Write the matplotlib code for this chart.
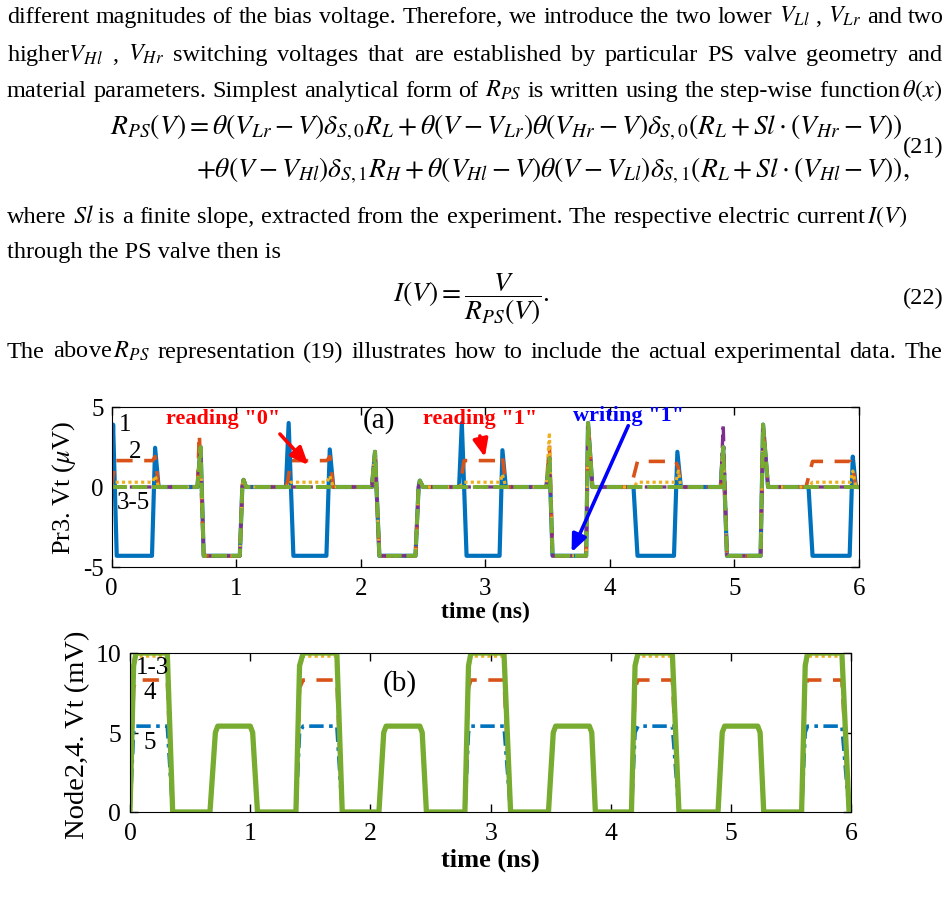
import matplotlib
matplotlib.use('Agg')
import matplotlib.pyplot as plt

plt.rcParams['font.family'] = ['Liberation Serif', 'DejaVu Serif']
plt.rcParams['mathtext.fontset'] = 'stix'
plt.rcParams['axes.unicode_minus'] = False

W, H = 948, 903
SERIF = ['Liberation Serif', 'DejaVu Serif']

C_BLUE = '#0072BD'
C_ORANGE = '#D95319'
C_YELLOW = '#EDB120'
C_PURPLE = '#7E2F8E'
C_GREEN = '#77AC30'

# ---- panel (a): Pr3. Vt (uV) vs time (ns) ----
t_pr3_1 = [0.000, 0.013, 0.042, 0.325, 0.350, 0.378,
           0.690, 0.715, 0.740, 1.030, 1.050, 1.060, 1.080,
           1.400, 1.422, 1.460, 1.725, 1.752, 1.780,
           2.090, 2.115, 2.150, 2.440, 2.465, 2.475, 2.500,
           2.790, 2.812, 2.850, 3.115, 3.138, 3.165,
           3.490, 3.515, 3.540, 3.810, 3.825, 3.860,
           4.190, 4.222, 4.515, 4.542, 4.570,
           4.890, 4.910, 4.940, 5.210, 5.230, 5.270,
           5.595, 5.627, 5.925, 5.950, 5.975, 6.000]
v_pr3_1 = [0, 3.9, -4.3, -4.3, 2.45, 0,
           0, 2.5, -4.3, -4.3, 0, 0.45, 0,
           0, 4.0, -4.3, -4.3, 2.35, 0,
           0, 2.2, -4.3, -4.3, 0, 0.4, 0,
           0, 4.0, -4.3, -4.3, 2.3, 0,
           0, 1.8, -4.3, -4.3, 4.0, 0,
           0, -4.3, -4.3, 2.2, 0,
           0, 2.5, -4.3, -4.3, 3.9, 0,
           0, -4.3, -4.3, 1.9, 0, 0]

t_pr3_2 = [0.000, 0.030, 0.330, 0.350, 0.378,
           0.690, 0.705, 0.740, 1.030, 1.050, 1.060, 1.080,
           1.400, 1.415, 1.440, 1.730, 1.752, 1.780,
           2.090, 2.115, 2.150, 2.440, 2.465, 2.475, 2.500,
           2.790, 2.805, 2.830, 3.120, 3.138, 3.165,
           3.490, 3.515, 3.540, 3.810, 3.825, 3.860,
           4.170, 4.222, 4.530, 4.550, 4.570,
           4.890, 4.910, 4.940, 5.210, 5.230, 5.270,
           5.575, 5.627, 5.930, 5.950, 5.975, 6.000]
v_pr3_2 = [0, 1.65, 1.65, 1.9, 0,
           0, 3.3, -4.3, -4.3, 0, 0.45, 0,
           0, 0.4, 1.65, 1.65, 1.9, 0,
           0, 2.2, -4.3, -4.3, 0, 0.4, 0,
           0, 0.4, 1.65, 1.65, 1.9, 0,
           0, 2.6, -4.3, -4.3, 4.0, 0,
           0, 1.6, 1.6, 1.2, 0,
           0, 2.5, -4.3, -4.3, 3.9, 0,
           0, 1.6, 1.6, 1.2, 0, 0]

t_pr3_3 = [0.000, 0.030, 0.330, 0.350, 0.378,
           0.690, 0.715, 0.740, 1.030, 1.050, 1.060, 1.080,
           1.400, 1.440, 1.730, 1.752, 1.780,
           2.090, 2.115, 2.150, 2.440, 2.465, 2.475, 2.500,
           2.790, 2.830, 3.120, 3.138, 3.165,
           3.490, 3.515, 3.540, 3.810, 3.825, 3.860,
           4.190, 4.222, 4.530, 4.550, 4.570,
           4.890, 4.910, 4.940, 5.210, 5.230, 5.270,
           5.595, 5.627, 5.930, 5.950, 5.975, 6.000]
v_pr3_3 = [0, 0.3, 0.3, 0.7, 0,
           0, 2.5, -4.3, -4.3, 0, 0.45, 0,
           0, 0.3, 0.3, 0.7, 0,
           0, 2.2, -4.3, -4.3, 0, 0.4, 0,
           0, 0.3, 0.3, 0.8, 0,
           0, 3.4, -4.3, -4.3, 4.0, 0,
           0, 0.3, 0.3, 1.0, 0,
           0, 2.5, -4.3, -4.3, 3.9, 0,
           0, 0.3, 0.3, 1.0, 0, 0]

t_pr3_45 = [0.000, 0.690, 0.715, 0.740, 1.030, 1.050, 1.060, 1.080,
            2.090, 2.115, 2.150, 2.440, 2.465, 2.475, 2.500,
            3.490, 3.515, 3.540, 3.810, 3.825, 3.860,
            4.890, 4.910, 4.940, 5.210, 5.230, 5.270, 6.000]
v_pr3_4 = [0, 0, 2.5, -4.3, -4.3, 0, 0.45, 0,
           0, 2.2, -4.3, -4.3, 0, 0.4, 0,
           0, 1.8, -4.3, -4.3, 4.0, 0,
           0, 3.9, -4.3, -4.3, 3.9, 0, 0]
v_pr3_5 = [0, 0, 2.5, -4.3, -4.3, 0, 0.45, 0,
           0, 2.2, -4.3, -4.3, 0, 0.4, 0,
           0, 1.8, -4.3, -4.3, 4.0, 0,
           0, 2.5, -4.3, -4.3, 3.9, 0, 0]

# ---- panel (b): Node2,4. Vt (mV) vs time (ns) ----
t_node = [0.000, 0.030, 0.050, 0.310, 0.355,
          0.665, 0.710, 0.730, 1.000, 1.020, 1.060,
          1.380, 1.410, 1.440, 1.720, 1.765,
          2.070, 2.110, 2.130, 2.410, 2.430, 2.465,
          2.785, 2.815, 2.835, 3.110, 3.165,
          3.480, 3.520, 3.540, 3.820, 3.840, 3.870,
          4.170, 4.200, 4.225, 4.510, 4.565,
          4.890, 4.925, 4.945, 5.220, 5.240, 5.270,
          5.585, 5.615, 5.635, 5.920, 5.980, 6.000]
v_node_top = [0, 9.2, 10, 10, 0,
              0, 5.0, 5.4, 5.4, 5.0, 0,
              0, 9.2, 10, 10, 0,
              0, 5.0, 5.4, 5.4, 5.0, 0,
              0, 9.2, 10, 10, 0,
              0, 5.0, 5.4, 5.4, 5.0, 0,
              0, 9.2, 10, 10, 0,
              0, 5.0, 5.4, 5.4, 5.0, 0,
              0, 9.2, 10, 10, 0, 0]
v_node_3 = [0, 9.0, 9.8, 9.8, 0,
            0, 5.0, 5.4, 5.4, 5.0, 0,
            0, 9.0, 9.8, 9.8, 0,
            0, 5.0, 5.4, 5.4, 5.0, 0,
            0, 9.0, 9.8, 9.8, 0,
            0, 5.0, 5.4, 5.4, 5.0, 0,
            0, 9.0, 9.8, 9.8, 0,
            0, 5.0, 5.4, 5.4, 5.0, 0,
            0, 9.0, 9.8, 9.8, 0, 0]
v_node_4 = [0, 7.8, 8.3, 8.3, 0,
            0, 5.0, 5.4, 5.4, 5.0, 0,
            0, 7.8, 8.3, 8.3, 0,
            0, 5.0, 5.4, 5.4, 5.0, 0,
            0, 7.8, 8.3, 8.3, 0,
            0, 5.0, 5.4, 5.4, 5.0, 0,
            0, 7.8, 8.3, 8.3, 0,
            0, 5.0, 5.4, 5.4, 5.0, 0,
            0, 7.8, 8.3, 8.3, 0, 0]
v_node_5 = [0, 5.0, 5.4, 5.4, 0,
            0, 5.0, 5.4, 5.4, 5.0, 0,
            0, 5.0, 5.4, 5.4, 0,
            0, 5.0, 5.4, 5.4, 5.0, 0,
            0, 5.0, 5.4, 5.4, 0,
            0, 5.0, 5.4, 5.4, 5.0, 0,
            0, 5.0, 5.4, 5.4, 0,
            0, 5.0, 5.4, 5.4, 5.0, 0,
            0, 5.0, 5.4, 5.4, 0, 0]

# ---- page text ----
line1 = ['different', 'magnitudes', 'of', 'the', 'bias', 'voltage.', 'Therefore,',
         'we', 'introduce', 'the', 'two', 'lower', r'$V_{Ll}$', ',', r'$V_{Lr}$', 'and', 'two']
line2 = [r'higher$V_{Hl}$', ',', r'$V_{Hr}$', 'switching', 'voltages', 'that', 'are',
         'established', 'by', 'particular', 'PS', 'valve', 'geometry', 'and']
line3 = ['material', 'parameters.', 'Simplest', 'analytical', 'form', 'of', r'$R_{PS}$',
         'is', 'written', 'using', 'the', 'step-wise', r'function$\,\theta\left(x\right)$']
line4 = ['where', r'$Sl$ is', 'a', 'finite', 'slope,', 'extracted', 'from', 'the',
         'experiment.', 'The', 'respective', 'electric', r'current$\,I\left(V\right)$']
line5 = 'through the PS valve then is'
line6 = ['The', r'above$\,R_{PS}$', 'representation', '(19)', 'illustrates', 'how', 'to',
         'include', 'the', 'actual', 'experimental', 'data.', 'The']
eq21a = (r'$R_{PS}\left(V\right) = \theta\left(V_{Lr} - V\right)\delta_{S,0}R_L'
         r' + \theta\left(V - V_{Lr}\right)\theta\left(V_{Hr} - V\right)\delta_{S,0}'
         r'\left(R_L + Sl\cdot\left(V_{Hr} - V\right)\right)$')
eq21b = (r'$+\theta\left(V - V_{Hl}\right)\delta_{S,1}R_H + \theta\left(V_{Hl} - V\right)'
         r'\theta\left(V - V_{Ll}\right)\delta_{S,1}\left(R_L + Sl\cdot\left(V_{Hl} - V\right)\right),$')
eq22 = r'$I\left(V\right) = \dfrac{V}{R_{PS}\left(V\right)}.$'

fig = plt.figure(figsize=(W / 100, H / 100), dpi=100)
fig.patch.set_facecolor('white')
renderer = fig.canvas.get_renderer()


def fxy(x, y):
    return x / W, 1 - y / H


def measure(s, size):
    t = fig.text(0, 0, s, fontsize=size, family=SERIF)
    w = t.get_window_extent(renderer).width
    t.remove()
    return w


BODY = 17.5
justified = [(line1, 23, 7, 944), (line2, 61, 7, 942), (line3, 97, 7, 942),
             (line4, 223, 7, 908), (line6, 358, 7, 942)]

for words, y, x0, x1 in justified:
    size = BODY
    for _ in range(2):
        space = measure('a a', size) - measure('aa', size)
        nat = sum(measure(w, size) for w in words) + space * (len(words) - 1)
        if nat > x1 - x0:
            size *= (x1 - x0) / nat
    ws = [measure(w, size) for w in words]
    gap = (x1 - x0 - sum(ws)) / (len(words) - 1)
    x = x0
    for w, wd in zip(words, ws):
        fig.text(*fxy(x, y), w, fontsize=size, family=SERIF, ha='left', va='baseline')
        x += wd + gap

fig.text(*fxy(7, 258), line5, fontsize=BODY, family=SERIF, ha='left', va='baseline')

eq_size = 16 * 794 / measure(eq21a, 16)
fig.text(*fxy(110, 135), eq21a, fontsize=eq_size, ha='left', va='baseline')
fig.text(*fxy(196, 178), eq21b, fontsize=eq_size, ha='left', va='baseline')
fig.text(*fxy(944, 147), '(21)', fontsize=BODY, family=SERIF, ha='right', va='center')
fig.text(*fxy(393, 299), eq22, fontsize=eq_size, ha='left', va='center')
fig.text(*fxy(944, 298), '(22)', fontsize=BODY, family=SERIF, ha='right', va='center')

# ---- panel (a) ----
ax_a = fig.add_axes([111.5 / W, 1 - 568 / H, 747.5 / W, 160 / H])
ax_a.plot(t_pr3_1, v_pr3_1, color=C_BLUE, lw=3.0, solid_joinstyle='round')
ax_a.plot(t_pr3_2, v_pr3_2, color=C_ORANGE, lw=2.6, linestyle=(0, (4.5, 3.2)))
ax_a.plot(t_pr3_3, v_pr3_3, color=C_YELLOW, lw=2.3, linestyle=(0, (1.0, 1.0)))
ax_a.plot(t_pr3_45, v_pr3_4, color=C_PURPLE, lw=2.4, linestyle=(0, (4, 1.5, 1, 1.5)))
ax_a.plot(t_pr3_45, v_pr3_5, color=C_GREEN, lw=2.8, linestyle=(0, (4, 1.2)))
ax_a.set_xlim(0, 6)
ax_a.set_ylim(-5, 5)
ax_a.set_xticks(range(7))
ax_a.set_yticks([-5, 0, 5])
ax_a.tick_params(direction='in', top=True, right=True, length=6, width=1, labelsize=18)
ax_a.tick_params(axis='x', pad=7)
ax_a.tick_params(axis='y', pad=5.5)
ax_a.set_xlabel('time (ns)', fontsize=17, fontweight='bold')
ax_a.set_ylabel(r'Pr3. Vt ($\mu$V)', fontsize=19)
ax_a.xaxis.set_label_coords(0.5, -0.21)
ax_a.yaxis.set_label_coords(-0.045, 0.5)

ax_a.text(0.108, 3.94, '1', fontsize=18, ha='center', va='center')
ax_a.text(0.19, 2.25, '2', fontsize=18, ha='center', va='center')
ax_a.text(0.175, -0.95, '3-5', fontsize=18, ha='center', va='center')
ax_a.text(2.151, 4.22, '(a)', fontsize=21, ha='center', va='center')
ax_a.text(0.895, 4.3, 'reading "0"', fontsize=16, fontweight='bold', color='red',
          ha='center', va='center')
ax_a.text(2.96, 4.3, 'reading "1"', fontsize=16, fontweight='bold', color='red',
          ha='center', va='center')
ax_a.text(4.154, 4.52, 'writing "1"', fontsize=16, fontweight='bold', color='blue',
          ha='center', va='center')
arrow = '-|>,head_length=0.7,head_width=0.3'
for head, tail, col in [((1.58, 1.375), (1.352, 3.31), 'red'),
                        ((2.997, 1.875), (2.957, 3.19), 'red'),
                        ((3.693, -4.08), (4.148, 3.83), 'blue')]:
    ax_a.annotate('', xy=head, xytext=tail, zorder=10,
                  arrowprops=dict(arrowstyle=arrow, lw=2.6, color=col, shrinkA=0,
                                  shrinkB=0, mutation_scale=15))

# ---- panel (b) ----
ax_b = fig.add_axes([130 / W, 1 - 813 / H, 721.5 / W, 159 / H])
ax_b.plot(t_node, v_node_5, color=C_BLUE, lw=2.6, linestyle=(0, (4, 1.5, 1, 1.5)))
ax_b.plot(t_node, v_node_4, color=C_ORANGE, lw=2.6, linestyle=(0, (4.5, 3.2)))
ax_b.plot(t_node, v_node_3, color=C_YELLOW, lw=2.3, linestyle=(0, (1.0, 1.0)))
ax_b.plot(t_node, v_node_top, color=C_PURPLE, lw=2.0)
ax_b.plot(t_node, v_node_top, color=C_GREEN, lw=3.8, solid_joinstyle='round')
ax_b.set_xlim(0, 6)
ax_b.set_ylim(0, 10)
ax_b.set_xticks(range(7))
ax_b.set_yticks([0, 5, 10])
ax_b.tick_params(direction='in', top=True, right=True, length=6, width=1, labelsize=18.5)
ax_b.tick_params(axis='x', pad=7)
ax_b.tick_params(axis='y', pad=6.5)
ax_b.set_xlabel('time (ns)', fontsize=19, fontweight='bold')
ax_b.set_ylabel('Node2,4. Vt (mV)', fontsize=20.5)
ax_b.xaxis.set_label_coords(0.5, -0.226)
ax_b.yaxis.set_label_coords(-0.0554, 0.49)

ax_b.text(0.183, 9.12, '1-3', fontsize=18, ha='center', va='center')
ax_b.text(0.166, 7.55, '4', fontsize=18, ha='center', va='center')
ax_b.text(0.166, 4.4, '5', fontsize=18, ha='center', va='center')
ax_b.text(2.245, 8.14, '(b)', fontsize=21, ha='center', va='center')

fig.savefig('out.png', dpi=100, facecolor='white')
